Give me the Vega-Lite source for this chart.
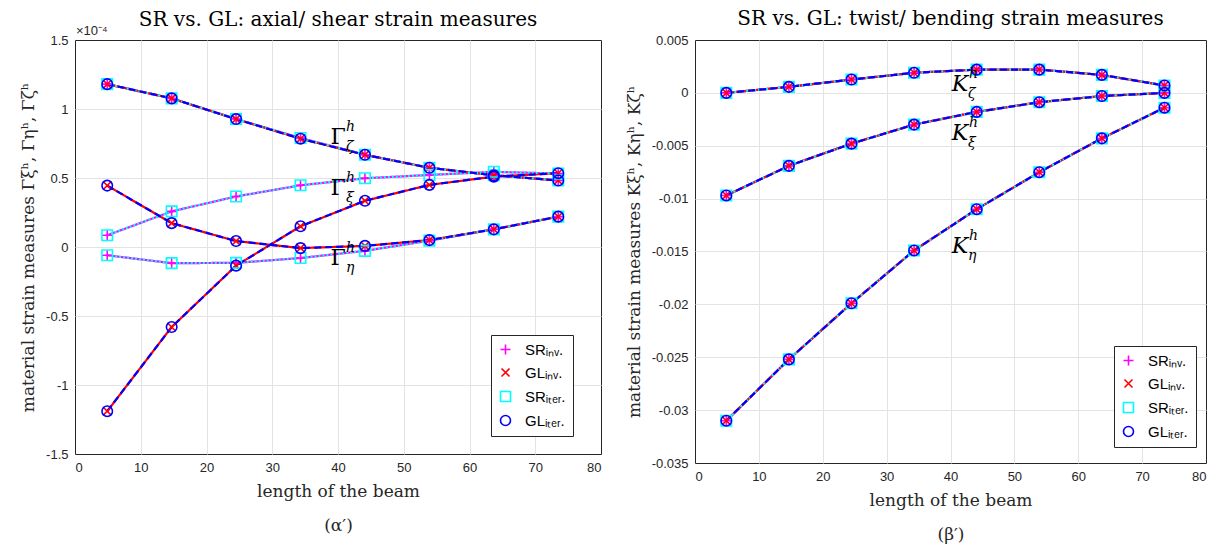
{
  "$schema": "https://vega.github.io/schema/vega-lite/v6.json",
  "background": "white",
  "padding": {"left": 19, "top": 8, "right": 5, "bottom": 3},
  "datasets": {
    "L": [
      {"m":"SR_inv","c":"xi","x":4.9,"y":0.085},{"m":"SR_inv","c":"xi","x":14.7,"y":0.258},{"m":"SR_inv","c":"xi","x":24.5,"y":0.366},{"m":"SR_inv","c":"xi","x":34.3,"y":0.447},{"m":"SR_inv","c":"xi","x":44.1,"y":0.498},{"m":"SR_inv","c":"xi","x":53.9,"y":0.522},{"m":"SR_inv","c":"xi","x":63.7,"y":0.545},{"m":"SR_inv","c":"xi","x":73.5,"y":0.532},
      {"m":"SR_inv","c":"eta","x":4.9,"y":-0.06},{"m":"SR_inv","c":"eta","x":14.7,"y":-0.117},{"m":"SR_inv","c":"eta","x":24.5,"y":-0.115},{"m":"SR_inv","c":"eta","x":34.3,"y":-0.08},{"m":"SR_inv","c":"eta","x":44.1,"y":-0.028},{"m":"SR_inv","c":"eta","x":53.9,"y":0.046},{"m":"SR_inv","c":"eta","x":63.7,"y":0.128},{"m":"SR_inv","c":"eta","x":73.5,"y":0.22},
      {"m":"SR_inv","c":"zeta","x":4.9,"y":1.18},{"m":"SR_inv","c":"zeta","x":14.7,"y":1.077},{"m":"SR_inv","c":"zeta","x":24.5,"y":0.927},{"m":"SR_inv","c":"zeta","x":34.3,"y":0.79},{"m":"SR_inv","c":"zeta","x":44.1,"y":0.668},{"m":"SR_inv","c":"zeta","x":53.9,"y":0.574},{"m":"SR_inv","c":"zeta","x":63.7,"y":0.52},{"m":"SR_inv","c":"zeta","x":73.5,"y":0.482},
      {"m":"GL_inv","c":"xi","x":4.9,"y":-1.19},{"m":"GL_inv","c":"xi","x":14.7,"y":-0.58},{"m":"GL_inv","c":"xi","x":24.5,"y":-0.135},{"m":"GL_inv","c":"xi","x":34.3,"y":0.15},{"m":"GL_inv","c":"xi","x":44.1,"y":0.335},{"m":"GL_inv","c":"xi","x":53.9,"y":0.45},{"m":"GL_inv","c":"xi","x":63.7,"y":0.51},{"m":"GL_inv","c":"xi","x":73.5,"y":0.535},
      {"m":"GL_inv","c":"eta","x":4.9,"y":0.445},{"m":"GL_inv","c":"eta","x":14.7,"y":0.173},{"m":"GL_inv","c":"eta","x":24.5,"y":0.043},{"m":"GL_inv","c":"eta","x":34.3,"y":-0.008},{"m":"GL_inv","c":"eta","x":44.1,"y":0.008},{"m":"GL_inv","c":"eta","x":53.9,"y":0.05},{"m":"GL_inv","c":"eta","x":63.7,"y":0.128},{"m":"GL_inv","c":"eta","x":73.5,"y":0.22},
      {"m":"GL_inv","c":"zeta","x":4.9,"y":1.18},{"m":"GL_inv","c":"zeta","x":14.7,"y":1.077},{"m":"GL_inv","c":"zeta","x":24.5,"y":0.927},{"m":"GL_inv","c":"zeta","x":34.3,"y":0.785},{"m":"GL_inv","c":"zeta","x":44.1,"y":0.668},{"m":"GL_inv","c":"zeta","x":53.9,"y":0.574},{"m":"GL_inv","c":"zeta","x":63.7,"y":0.52},{"m":"GL_inv","c":"zeta","x":73.5,"y":0.482},
      {"m":"SR_iter","c":"xi","x":4.9,"y":0.085},{"m":"SR_iter","c":"xi","x":14.7,"y":0.258},{"m":"SR_iter","c":"xi","x":24.5,"y":0.366},{"m":"SR_iter","c":"xi","x":34.3,"y":0.447},{"m":"SR_iter","c":"xi","x":44.1,"y":0.498},{"m":"SR_iter","c":"xi","x":53.9,"y":0.522},{"m":"SR_iter","c":"xi","x":63.7,"y":0.545},{"m":"SR_iter","c":"xi","x":73.5,"y":0.532},
      {"m":"SR_iter","c":"eta","x":4.9,"y":-0.06},{"m":"SR_iter","c":"eta","x":14.7,"y":-0.117},{"m":"SR_iter","c":"eta","x":24.5,"y":-0.115},{"m":"SR_iter","c":"eta","x":34.3,"y":-0.08},{"m":"SR_iter","c":"eta","x":44.1,"y":-0.028},{"m":"SR_iter","c":"eta","x":53.9,"y":0.046},{"m":"SR_iter","c":"eta","x":63.7,"y":0.128},{"m":"SR_iter","c":"eta","x":73.5,"y":0.22},
      {"m":"SR_iter","c":"zeta","x":4.9,"y":1.18},{"m":"SR_iter","c":"zeta","x":14.7,"y":1.077},{"m":"SR_iter","c":"zeta","x":24.5,"y":0.927},{"m":"SR_iter","c":"zeta","x":34.3,"y":0.79},{"m":"SR_iter","c":"zeta","x":44.1,"y":0.668},{"m":"SR_iter","c":"zeta","x":53.9,"y":0.574},{"m":"SR_iter","c":"zeta","x":63.7,"y":0.52},{"m":"SR_iter","c":"zeta","x":73.5,"y":0.482},
      {"m":"GL_iter","c":"xi","x":4.9,"y":-1.19},{"m":"GL_iter","c":"xi","x":14.7,"y":-0.58},{"m":"GL_iter","c":"xi","x":24.5,"y":-0.135},{"m":"GL_iter","c":"xi","x":34.3,"y":0.15},{"m":"GL_iter","c":"xi","x":44.1,"y":0.335},{"m":"GL_iter","c":"xi","x":53.9,"y":0.45},{"m":"GL_iter","c":"xi","x":63.7,"y":0.51},{"m":"GL_iter","c":"xi","x":73.5,"y":0.535},
      {"m":"GL_iter","c":"eta","x":4.9,"y":0.445},{"m":"GL_iter","c":"eta","x":14.7,"y":0.173},{"m":"GL_iter","c":"eta","x":24.5,"y":0.043},{"m":"GL_iter","c":"eta","x":34.3,"y":-0.008},{"m":"GL_iter","c":"eta","x":44.1,"y":0.008},{"m":"GL_iter","c":"eta","x":53.9,"y":0.05},{"m":"GL_iter","c":"eta","x":63.7,"y":0.128},{"m":"GL_iter","c":"eta","x":73.5,"y":0.22},
      {"m":"GL_iter","c":"zeta","x":4.9,"y":1.18},{"m":"GL_iter","c":"zeta","x":14.7,"y":1.077},{"m":"GL_iter","c":"zeta","x":24.5,"y":0.927},{"m":"GL_iter","c":"zeta","x":34.3,"y":0.785},{"m":"GL_iter","c":"zeta","x":44.1,"y":0.668},{"m":"GL_iter","c":"zeta","x":53.9,"y":0.574},{"m":"GL_iter","c":"zeta","x":63.7,"y":0.52},{"m":"GL_iter","c":"zeta","x":73.5,"y":0.482}
    ],
    "R": [
      {"m":"SR_inv","c":"xi","x":4.9,"y":-0.0097},{"m":"SR_inv","c":"xi","x":14.7,"y":-0.0069},{"m":"SR_inv","c":"xi","x":24.5,"y":-0.0048},{"m":"SR_inv","c":"xi","x":34.3,"y":-0.003},{"m":"SR_inv","c":"xi","x":44.1,"y":-0.0018},{"m":"SR_inv","c":"xi","x":53.9,"y":-0.00088},{"m":"SR_inv","c":"xi","x":63.7,"y":-0.0003},{"m":"SR_inv","c":"xi","x":73.5,"y":0},
      {"m":"SR_inv","c":"eta","x":4.9,"y":-0.031},{"m":"SR_inv","c":"eta","x":14.7,"y":-0.0252},{"m":"SR_inv","c":"eta","x":24.5,"y":-0.0199},{"m":"SR_inv","c":"eta","x":34.3,"y":-0.0149},{"m":"SR_inv","c":"eta","x":44.1,"y":-0.011},{"m":"SR_inv","c":"eta","x":53.9,"y":-0.0075},{"m":"SR_inv","c":"eta","x":63.7,"y":-0.0043},{"m":"SR_inv","c":"eta","x":73.5,"y":-0.0014},
      {"m":"SR_inv","c":"zeta","x":4.9,"y":0},{"m":"SR_inv","c":"zeta","x":14.7,"y":0.00057},{"m":"SR_inv","c":"zeta","x":24.5,"y":0.00126},{"m":"SR_inv","c":"zeta","x":34.3,"y":0.0019},{"m":"SR_inv","c":"zeta","x":44.1,"y":0.0022},{"m":"SR_inv","c":"zeta","x":53.9,"y":0.0022},{"m":"SR_inv","c":"zeta","x":63.7,"y":0.0017},{"m":"SR_inv","c":"zeta","x":73.5,"y":0.0007},
      {"m":"GL_inv","c":"xi","x":4.9,"y":-0.0097},{"m":"GL_inv","c":"xi","x":14.7,"y":-0.0069},{"m":"GL_inv","c":"xi","x":24.5,"y":-0.0048},{"m":"GL_inv","c":"xi","x":34.3,"y":-0.003},{"m":"GL_inv","c":"xi","x":44.1,"y":-0.0018},{"m":"GL_inv","c":"xi","x":53.9,"y":-0.00088},{"m":"GL_inv","c":"xi","x":63.7,"y":-0.0003},{"m":"GL_inv","c":"xi","x":73.5,"y":0},
      {"m":"GL_inv","c":"eta","x":4.9,"y":-0.031},{"m":"GL_inv","c":"eta","x":14.7,"y":-0.0252},{"m":"GL_inv","c":"eta","x":24.5,"y":-0.0199},{"m":"GL_inv","c":"eta","x":34.3,"y":-0.0149},{"m":"GL_inv","c":"eta","x":44.1,"y":-0.011},{"m":"GL_inv","c":"eta","x":53.9,"y":-0.0075},{"m":"GL_inv","c":"eta","x":63.7,"y":-0.0043},{"m":"GL_inv","c":"eta","x":73.5,"y":-0.0014},
      {"m":"GL_inv","c":"zeta","x":4.9,"y":0},{"m":"GL_inv","c":"zeta","x":14.7,"y":0.00057},{"m":"GL_inv","c":"zeta","x":24.5,"y":0.00126},{"m":"GL_inv","c":"zeta","x":34.3,"y":0.0019},{"m":"GL_inv","c":"zeta","x":44.1,"y":0.0022},{"m":"GL_inv","c":"zeta","x":53.9,"y":0.0022},{"m":"GL_inv","c":"zeta","x":63.7,"y":0.0017},{"m":"GL_inv","c":"zeta","x":73.5,"y":0.0007},
      {"m":"SR_iter","c":"xi","x":4.9,"y":-0.0097},{"m":"SR_iter","c":"xi","x":14.7,"y":-0.0069},{"m":"SR_iter","c":"xi","x":24.5,"y":-0.0048},{"m":"SR_iter","c":"xi","x":34.3,"y":-0.003},{"m":"SR_iter","c":"xi","x":44.1,"y":-0.0018},{"m":"SR_iter","c":"xi","x":53.9,"y":-0.00088},{"m":"SR_iter","c":"xi","x":63.7,"y":-0.0003},{"m":"SR_iter","c":"xi","x":73.5,"y":0},
      {"m":"SR_iter","c":"eta","x":4.9,"y":-0.031},{"m":"SR_iter","c":"eta","x":14.7,"y":-0.0252},{"m":"SR_iter","c":"eta","x":24.5,"y":-0.0199},{"m":"SR_iter","c":"eta","x":34.3,"y":-0.0149},{"m":"SR_iter","c":"eta","x":44.1,"y":-0.011},{"m":"SR_iter","c":"eta","x":53.9,"y":-0.0075},{"m":"SR_iter","c":"eta","x":63.7,"y":-0.0043},{"m":"SR_iter","c":"eta","x":73.5,"y":-0.0014},
      {"m":"SR_iter","c":"zeta","x":4.9,"y":0},{"m":"SR_iter","c":"zeta","x":14.7,"y":0.00057},{"m":"SR_iter","c":"zeta","x":24.5,"y":0.00126},{"m":"SR_iter","c":"zeta","x":34.3,"y":0.0019},{"m":"SR_iter","c":"zeta","x":44.1,"y":0.0022},{"m":"SR_iter","c":"zeta","x":53.9,"y":0.0022},{"m":"SR_iter","c":"zeta","x":63.7,"y":0.0017},{"m":"SR_iter","c":"zeta","x":73.5,"y":0.0007},
      {"m":"GL_iter","c":"xi","x":4.9,"y":-0.0097},{"m":"GL_iter","c":"xi","x":14.7,"y":-0.0069},{"m":"GL_iter","c":"xi","x":24.5,"y":-0.0048},{"m":"GL_iter","c":"xi","x":34.3,"y":-0.003},{"m":"GL_iter","c":"xi","x":44.1,"y":-0.0018},{"m":"GL_iter","c":"xi","x":53.9,"y":-0.00088},{"m":"GL_iter","c":"xi","x":63.7,"y":-0.0003},{"m":"GL_iter","c":"xi","x":73.5,"y":0},
      {"m":"GL_iter","c":"eta","x":4.9,"y":-0.031},{"m":"GL_iter","c":"eta","x":14.7,"y":-0.0252},{"m":"GL_iter","c":"eta","x":24.5,"y":-0.0199},{"m":"GL_iter","c":"eta","x":34.3,"y":-0.0149},{"m":"GL_iter","c":"eta","x":44.1,"y":-0.011},{"m":"GL_iter","c":"eta","x":53.9,"y":-0.0075},{"m":"GL_iter","c":"eta","x":63.7,"y":-0.0043},{"m":"GL_iter","c":"eta","x":73.5,"y":-0.0014},
      {"m":"GL_iter","c":"zeta","x":4.9,"y":0},{"m":"GL_iter","c":"zeta","x":14.7,"y":0.00057},{"m":"GL_iter","c":"zeta","x":24.5,"y":0.00126},{"m":"GL_iter","c":"zeta","x":34.3,"y":0.0019},{"m":"GL_iter","c":"zeta","x":44.1,"y":0.0022},{"m":"GL_iter","c":"zeta","x":53.9,"y":0.0022},{"m":"GL_iter","c":"zeta","x":63.7,"y":0.0017},{"m":"GL_iter","c":"zeta","x":73.5,"y":0.0007}
    ],
    "LA": [
      {"x":40,"y":0.8,"b":"Γ","s":"ζ"},
      {"x":40,"y":0.43,"b":"Γ","s":"ξ"},
      {"x":40,"y":-0.08,"b":"Γ","s":"η"}
    ],
    "LX": [
      {"x":0,"y":1.5,"t":"×10⁻⁴"}
    ],
    "RA": [
      {"x":41.5,"y":0.0008,"b":"K","s":"ζ"},
      {"x":41.5,"y":-0.0038,"b":"K","s":"ξ"},
      {"x":41.5,"y":-0.0145,"b":"K","s":"η"}
    ]
  },
  "config": {
    "view": {"stroke": "#262626", "strokeWidth": 1},
    "axis": {
      "labelFont": "Liberation Sans", "labelFontSize": 13, "labelColor": "#262626",
      "titleFont": "DejaVu Serif", "titleFontSize": 17, "titleFontWeight": "normal", "titleColor": "#262626",
      "gridWidth": 1, "domain": false, "ticks": false, "labelPadding": 7
    },
    "title": {"font": "DejaVu Serif", "fontSize": 20, "fontWeight": "normal", "color": "#000000"},
    "legend": {
      "labelFont": "Liberation Sans", "labelFontSize": 15, "labelColor": "#000000",
      "strokeColor": "#262626", "fillColor": "white", "padding": 7, "rowPadding": 7, "labelOffset": 12,
      "symbolStrokeWidth": 1.6, "symbolSize": 100
    }
  },
  "resolve": {
    "scale": {"color": "independent", "shape": "independent", "stroke": "independent", "strokeDash": "independent"}
  },
  "spacing": 22,
  "hconcat": [
    {
      "title": {"text": "SR vs. GL: axial/ shear strain measures", "offset": -5},
      "width": 526,
      "height": 414,
      "layer": [
        {
          "data": {"name": "L"},
          "mark": {"type": "line", "strokeWidth": 2.2},
          "encoding": {
            "x": {"field": "x", "type": "quantitative", "scale": {"domain": [0, 80], "nice": false}, "axis": {"values": [0,10,20,30,40,50,60,70,80], "title": ["length of the beam", "(α′)"], "titleLineHeight": 34, "titlePadding": 9, "gridColor": {"condition": {"test": "datum.value == 0 || datum.value == 80", "value": "transparent"}, "value": "#e3e3e3"}}},
            "y": {"field": "y", "type": "quantitative", "scale": {"domain": [-1.5, 1.5], "nice": false}, "axis": {"values": [-1.5,-1,-0.5,0,0.5,1,1.5], "labelExpr": "toString(datum.value)", "title": "material strain measures Γξʰ, Γηʰ, Γζʰ", "titlePadding": 8, "gridColor": {"condition": {"test": "datum.value == -1.5 || datum.value == 1.5", "value": "transparent"}, "value": "#e3e3e3"}}},
            "detail": {"field": "c"},
            "stroke": {"field": "m", "type": "nominal", "scale": {"domain": ["GL_iter","SR_iter","GL_inv","SR_inv"], "range": ["#0000ff","#00ffff","#ff0000","#ff00ff"]}, "legend": null},
            "strokeDash": {"field": "m", "type": "nominal", "scale": {"domain": ["GL_iter","SR_iter","GL_inv","SR_inv"], "range": [[7,4],[2,2],[1,0],[1,0]]}, "legend": null}
          }
        },
        {
          "data": {"name": "L"},
          "mark": {"type": "point", "filled": false, "strokeWidth": 1.6, "size": 110, "opacity": 1},
          "encoding": {
            "x": {"field": "x", "type": "quantitative"},
            "y": {"field": "y", "type": "quantitative"},
            "color": {"field": "m", "type": "nominal", "scale": {"domain": ["SR_inv","GL_inv","SR_iter","GL_iter"], "range": ["#ff00ff","#ff0000","#00ffff","#0000ff"]},
              "legend": {"title": null, "orient": "none", "legendX": 416, "legendY": 295, "labelExpr": "datum.label == 'SR_inv' ? 'SRᵢₙᵥ.' : datum.label == 'GL_inv' ? 'GLᵢₙᵥ.' : datum.label == 'SR_iter' ? 'SRᵢₜₑᵣ.' : 'GLᵢₜₑᵣ.'"}},
            "shape": {"field": "m", "type": "nominal", "scale": {"domain": ["SR_inv","GL_inv","SR_iter","GL_iter"], "range": ["M-1,0H1M0,-1V1", "M-0.8,-0.8L0.8,0.8M-0.8,0.8L0.8,-0.8", "square", "circle"]},
              "legend": {"title": null, "orient": "none", "legendX": 416, "legendY": 295, "labelExpr": "datum.label == 'SR_inv' ? 'SRᵢₙᵥ.' : datum.label == 'GL_inv' ? 'GLᵢₙᵥ.' : datum.label == 'SR_iter' ? 'SRᵢₜₑᵣ.' : 'GLᵢₜₑᵣ.'"}}
          }
        },
        {
          "data": {"name": "LA"},
          "mark": {"type": "text", "font": "DejaVu Serif", "fontSize": 22, "align": "center", "baseline": "middle", "color": "#000000"},
          "encoding": {
            "x": {"field": "x", "type": "quantitative"},
            "y": {"field": "y", "type": "quantitative"},
            "text": {"field": "b"}
          }
        },
        {
          "data": {"name": "LA"},
          "mark": {"type": "text", "font": "DejaVu Serif", "fontStyle": "italic", "fontSize": 14, "align": "left", "baseline": "middle", "dx": 8, "dy": -10, "text": "h", "color": "#000000"},
          "encoding": {
            "x": {"field": "x", "type": "quantitative"},
            "y": {"field": "y", "type": "quantitative"}
          }
        },
        {
          "data": {"name": "LA"},
          "mark": {"type": "text", "font": "DejaVu Serif", "fontStyle": "italic", "fontSize": 14, "align": "left", "baseline": "middle", "dx": 8, "dy": 10, "color": "#000000"},
          "encoding": {
            "x": {"field": "x", "type": "quantitative"},
            "y": {"field": "y", "type": "quantitative"},
            "text": {"field": "s"}
          }
        },
        {
          "data": {"name": "LX"},
          "mark": {"type": "text", "font": "Liberation Sans", "fontSize": 13, "align": "left", "baseline": "bottom", "dx": 1, "dy": -2, "color": "#262626"},
          "encoding": {
            "x": {"field": "x", "type": "quantitative"},
            "y": {"field": "y", "type": "quantitative"},
            "text": {"field": "t"}
          }
        }
      ]
    },
    {
      "title": {"text": "SR vs. GL: twist/ bending strain measures", "offset": 5},
      "width": 511,
      "height": 423,
      "layer": [
        {
          "data": {"name": "R"},
          "mark": {"type": "line", "strokeWidth": 2.2},
          "encoding": {
            "x": {"field": "x", "type": "quantitative", "scale": {"domain": [0, 80], "nice": false}, "axis": {"values": [0,10,20,30,40,50,60,70,80], "title": ["length of the beam", "(β′)"], "titleLineHeight": 34, "titlePadding": 9, "gridColor": {"condition": {"test": "datum.value == 0 || datum.value == 80", "value": "transparent"}, "value": "#e3e3e3"}}},
            "y": {"field": "y", "type": "quantitative", "scale": {"domain": [-0.035, 0.005], "nice": false}, "axis": {"values": [-0.035,-0.03,-0.025,-0.02,-0.015,-0.01,-0.005,0,0.005], "labelExpr": "toString(datum.value)", "title": "material strain measures Kξʰ, Kηʰ, Kζʰ", "titlePadding": 8, "gridColor": {"condition": {"test": "datum.value == -0.035 || datum.value == 0.005", "value": "transparent"}, "value": "#e3e3e3"}}},
            "detail": {"field": "c"},
            "stroke": {"field": "m", "type": "nominal", "scale": {"domain": ["GL_iter","SR_iter","GL_inv","SR_inv"], "range": ["#0000ff","#00ffff","#ff0000","#ff00ff"]}, "legend": null},
            "strokeDash": {"field": "m", "type": "nominal", "scale": {"domain": ["GL_iter","SR_iter","GL_inv","SR_inv"], "range": [[7,4],[2,2],[1,0],[1,0]]}, "legend": null}
          }
        },
        {
          "data": {"name": "R"},
          "mark": {"type": "point", "filled": false, "strokeWidth": 1.6, "size": 110, "opacity": 1},
          "encoding": {
            "x": {"field": "x", "type": "quantitative"},
            "y": {"field": "y", "type": "quantitative"},
            "color": {"field": "m", "type": "nominal", "scale": {"domain": ["SR_inv","GL_inv","SR_iter","GL_iter"], "range": ["#ff00ff","#ff0000","#00ffff","#0000ff"]},
              "legend": {"title": null, "orient": "none", "legendX": 419, "legendY": 306, "labelExpr": "datum.label == 'SR_inv' ? 'SRᵢₙᵥ.' : datum.label == 'GL_inv' ? 'GLᵢₙᵥ.' : datum.label == 'SR_iter' ? 'SRᵢₜₑᵣ.' : 'GLᵢₜₑᵣ.'"}},
            "shape": {"field": "m", "type": "nominal", "scale": {"domain": ["SR_inv","GL_inv","SR_iter","GL_iter"], "range": ["M-1,0H1M0,-1V1", "M-0.8,-0.8L0.8,0.8M-0.8,0.8L0.8,-0.8", "square", "circle"]},
              "legend": {"title": null, "orient": "none", "legendX": 419, "legendY": 306, "labelExpr": "datum.label == 'SR_inv' ? 'SRᵢₙᵥ.' : datum.label == 'GL_inv' ? 'GLᵢₙᵥ.' : datum.label == 'SR_iter' ? 'SRᵢₜₑᵣ.' : 'GLᵢₜₑᵣ.'"}}
          }
        },
        {
          "data": {"name": "RA"},
          "mark": {"type": "text", "font": "DejaVu Serif", "fontStyle": "italic", "fontSize": 22, "align": "center", "baseline": "middle", "color": "#000000"},
          "encoding": {
            "x": {"field": "x", "type": "quantitative"},
            "y": {"field": "y", "type": "quantitative"},
            "text": {"field": "b"}
          }
        },
        {
          "data": {"name": "RA"},
          "mark": {"type": "text", "font": "DejaVu Serif", "fontStyle": "italic", "fontSize": 14, "align": "left", "baseline": "middle", "dx": 9, "dy": -10, "text": "h", "color": "#000000"},
          "encoding": {
            "x": {"field": "x", "type": "quantitative"},
            "y": {"field": "y", "type": "quantitative"}
          }
        },
        {
          "data": {"name": "RA"},
          "mark": {"type": "text", "font": "DejaVu Serif", "fontStyle": "italic", "fontSize": 14, "align": "left", "baseline": "middle", "dx": 8, "dy": 10, "color": "#000000"},
          "encoding": {
            "x": {"field": "x", "type": "quantitative"},
            "y": {"field": "y", "type": "quantitative"},
            "text": {"field": "s"}
          }
        }
      ]
    }
  ]
}
